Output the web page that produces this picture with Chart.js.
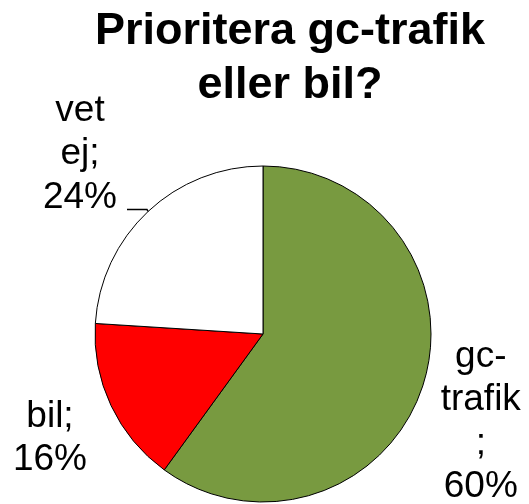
<!DOCTYPE html>
<html><head><meta charset="utf-8">
<script src="https://cdn.jsdelivr.net/npm/chart.js@4/dist/chart.umd.min.js"></script>
<style>html,body{margin:0;padding:0;background:#fff;}#wrap{width:529px;height:504px;}</style>
</head><body><div id="wrap"><canvas id="c" width="529" height="504"></canvas></div>
<script>
const titleLines = ['Prioritera gc-trafik', 'eller bil?'];
const categories = ['gc-trafik', 'bil', 'vet ej'];
const values = [60, 16, 24];
const labelLines = [['gc-', 'trafik', ';', '60%'], ['bil;', '16%'], ['vet', 'ej;', '24%']];
const colors = ['#789a40', '#ff0000', '#ffffff'];

// label block offsets relative to the arc's outer mid point (style only)
const labelOffsets = [{dx: 58, dy: -19}, {dx: -61, dy: 21}, {dx: -68, dy: -91}];

const labelPlugin = {
  id: 'pieLabels',
  afterDatasetsDraw(chart) {
    const ctx = chart.ctx;
    const meta = chart.getDatasetMeta(0);
    ctx.save();
    ctx.fillStyle = '#000';
    ctx.font = 'bold 45px "Liberation Sans", Arial, sans-serif';
    ctx.textAlign = 'center';
    ctx.textBaseline = 'alphabetic';
    titleLines.forEach((t, i) => ctx.fillText(t, 290, 44 + i * 54));
    ctx.font = '37px "Liberation Sans", Arial, sans-serif';
    meta.data.forEach((arc, i) => {
      const p = arc.getProps(['x', 'y', 'startAngle', 'endAngle', 'outerRadius'], true);
      const mid = (p.startAngle + p.endAngle) / 2;
      const ax = p.x + Math.cos(mid) * p.outerRadius;
      const ay = p.y + Math.sin(mid) * p.outerRadius;
      const lines = labelLines[i];
      const off = labelOffsets[i];
      const lh = 43.5;
      const cx = ax + off.dx;
      const top = ay + off.dy;
      lines.forEach((l, j) => {
        ctx.fillText(l, cx, top + j * lh);
      });
      if (i === 2) {
        ctx.strokeStyle = '#000';
        ctx.lineWidth = 1.5;
        ctx.beginPath();
        ctx.moveTo(ax, ay);
        ctx.lineTo(ax - 1, ay - 2);
        ctx.lineTo(ax - 21, ay - 2);
        ctx.stroke();
      }
    });
    ctx.restore();
  }
};

new Chart(document.getElementById('c'), {
  type: 'pie',
  data: {
    labels: categories,
    datasets: [{
      data: values,
      backgroundColor: colors,
      borderColor: '#000',
      borderWidth: 1,
      hoverOffset: 0
    }]
  },
  options: {
    responsive: false,
    animation: false,
    radius: 168,
    layout: {padding: {left: 95, right: 98, top: 166, bottom: 2}},
    plugins: {legend: {display: false}, title: {display: false}, tooltip: {enabled: false}}
  },
  plugins: [labelPlugin]
});
</script>
</body></html>
